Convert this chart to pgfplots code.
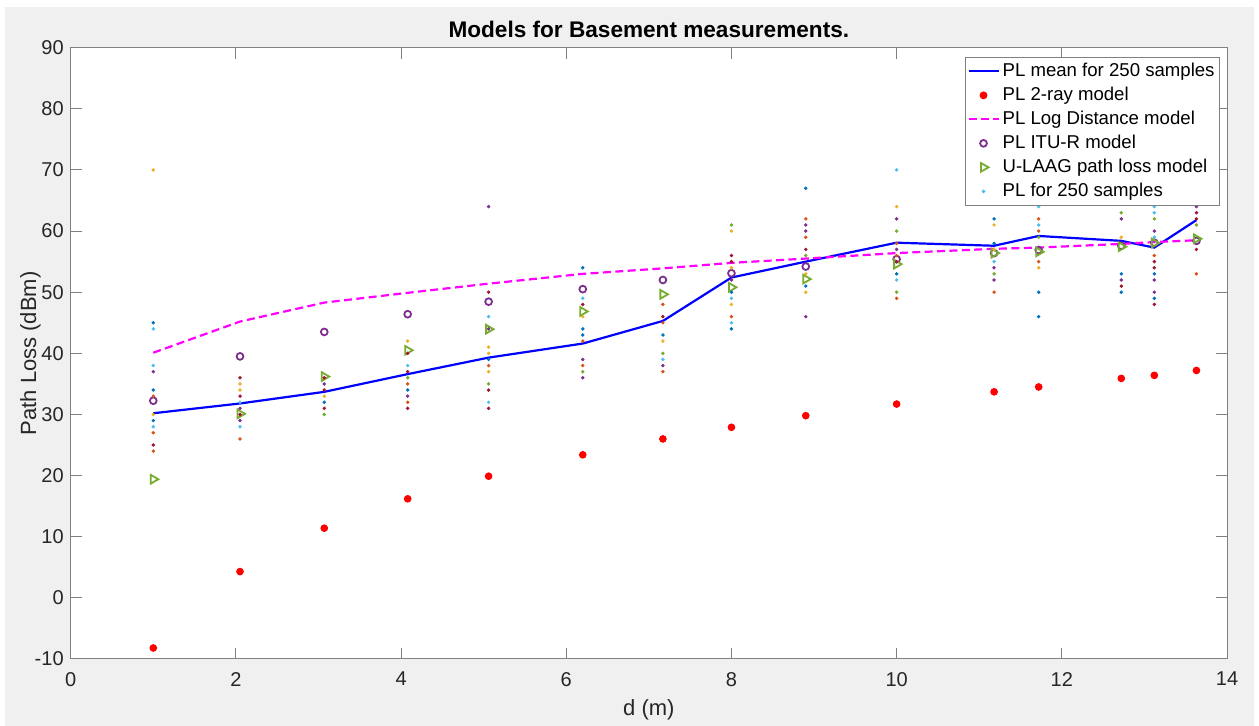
\documentclass[border=0pt]{standalone}
\usepackage{fontspec}
\setmainfont{Liberation Sans}
\usepackage{pgfplots}
\pgfplotsset{compat=1.18}
\definecolor{C1}{rgb}{0,0.447,0.741}
\definecolor{C2}{rgb}{0.85,0.325,0.098}
\definecolor{C3}{rgb}{0.929,0.694,0.125}
\definecolor{C4}{rgb}{0.494,0.184,0.556}
\definecolor{C5}{rgb}{0.466,0.674,0.188}
\definecolor{C6}{rgb}{0.301,0.745,0.933}
\definecolor{C7}{rgb}{0.635,0.078,0.184}
\definecolor{mag}{rgb}{1,0,1}
\definecolor{pureblue}{rgb}{0,0,1}
\definecolor{purered}{rgb}{1,0,0}
\definecolor{bggray}{HTML}{F0F0F0}
\definecolor{axgray}{HTML}{808080}
\definecolor{txtgray}{HTML}{262626}
\begin{document}
\begin{tikzpicture}
\fill[white] (0,0) rectangle (629.5pt,363pt);
\fill[bggray] (2.5pt,0pt) rectangle (627pt,359.5pt);
\begin{axis}[
  at={(35.35pt,33.5pt)}, anchor=south west,
  scale only axis, width=578.15pt, height=305.65pt,
  xmin=0, xmax=14, ymin=-10, ymax=90,
  xtick={0,2,...,14}, ytick={-10,0,...,90},
  tick align=inside, tick pos=both, major tick length=5.6pt,
  axis line style={axgray, line width=0.5pt},
  tick style={axgray, line width=0.5pt},
  axis background/.style={fill=white},
  /pgf/number format/assume math mode=true,
  tick label style={font=\fontsize{10}{12}\selectfont, text=txtgray},
  xticklabel style={yshift=-3pt},
  label style={font=\fontsize{11}{13}\selectfont, text=txtgray},
  xlabel={d (m)}, ylabel={Path Loss (dBm)},
  xlabel style={at={(axis description cs:0.5,-0.0932)}, anchor=base},
  ylabel style={at={(axis description cs:-0.0299,0.5)}, anchor=base},
  title={Models for Basement measurements.},
  title style={font=\bfseries\fontsize{11.3}{13}\selectfont, at={(0.5,1)}, anchor=base, yshift=-1.15pt},
  legend image code/.code={\draw[mark repeat=2,mark phase=2,#1] plot coordinates {(0pt,0pt) (7.5pt,0pt) (15pt,0pt)};},
  legend style={at={(0.994,0.985)}, anchor=north east, draw=axgray, line width=0.5pt, fill=white,
    font=\fontsize{9.3}{11}\selectfont, row sep=0pt, inner sep=1pt,
    nodes={text height=7pt, text depth=2pt, inner sep=1.5pt}},
  legend cell align=left,
]
\addplot[pureblue, line width=1.1pt] coordinates {
(1,30.2) (2.05,31.8) (3.07,33.7) (4.08,36.6) (5.06,39.3) (6.2,41.6) (7.17,45.3) (8.0,52.4)
(8.9,55.0) (10.0,58.1) (11.18,57.6) (11.72,59.2) (12.72,58.4) (13.12,57.3) (13.63,61.8)};
\addlegendentry{PL mean for 250 samples}
\addplot[only marks, mark=*, mark size=1.7pt, purered] coordinates {
(1,-8.2) (2.05,4.3) (3.07,11.4) (4.08,16.2) (5.06,19.9) (6.2,23.4) (7.17,26.0) (8.0,27.9)
(8.9,29.8) (10.0,31.7) (11.18,33.7) (11.72,34.5) (12.72,35.9) (13.12,36.4) (13.63,37.2)};
\addlegendentry{PL 2-ray model}
\addplot[mag, line width=1.1pt, dash pattern=on 4pt off 2.2pt] coordinates {
(1,40.1) (2.05,45.2) (3.07,48.3) (4.08,49.9) (5.06,51.4) (6.2,53.0) (7.17,53.9) (8.0,54.8)
(8.9,55.5) (10.0,56.4) (11.18,57.1) (11.72,57.3) (12.72,57.9) (13.12,58.2) (13.63,58.5)};
\addlegendentry{PL Log Distance model}
\addplot[only marks, mark=o, mark size=1.7pt, C4, line width=0.9pt] coordinates {
(1,32.25) (2.05,39.5) (3.07,43.5) (4.08,46.4) (5.06,48.45) (6.2,50.5) (7.17,52.0) (8.0,53.1)
(8.9,54.2) (10.0,55.4) (11.18,56.4) (11.72,56.9) (12.72,57.6) (13.12,58.1) (13.63,58.4)};
\addlegendentry{PL ITU-R model}
\addplot[only marks, mark=triangle, mark size=2.5pt, C5, line width=0.9pt, mark options={rotate=-90}] coordinates {
(1,19.4) (2.05,30.1) (3.07,36.2) (4.08,40.5) (5.06,43.95) (6.2,46.85) (7.17,49.65) (8.0,50.8)
(8.9,52.15) (10.0,54.6) (11.18,56.4) (11.72,56.6) (12.72,57.45) (13.12,58.05) (13.63,58.75)};
\addlegendentry{U-LAAG path loss model}
\addplot[scatter, only marks, scatter src=explicit symbolic, mark size=0.65pt, forget plot,
  scatter/classes={b={mark=*,C1}, o={mark=*,C2}, y={mark=*,C3}, p={mark=*,C4}, g={mark=*,C5}, l={mark=*,C6}, r={mark=*,C7}}]
table[meta=c] {
x y c
1 70 y
1 45 b
1 44 l
1 38 l
1 37 p
1 34 b
1 33 o
1 30 y
1 29 b
1 28 l
1 27 o
1 25 r
1 24 o
2.05 36 r
2.05 35 y
2.05 34 y
2.05 33 r
2.05 32 l
2.05 31 p
2.05 30 r
2.05 29 p
2.05 28 l
2.05 26 o
3.07 36 r
3.07 35 p
3.07 34 r
3.07 33 y
3.07 32 b
3.07 31 r
3.07 30 g
4.08 42 y
4.08 40 r
4.08 38 l
4.08 37 r
4.08 36 g
4.08 35 o
4.08 34 b
4.08 33 p
4.08 32 o
4.08 31 r
5.06 64 p
5.06 50 r
5.06 46 l
5.06 44 p
5.06 41 y
5.06 40 y
5.06 39 b
5.06 38 o
5.06 37 y
5.06 35 g
5.06 34 r
5.06 32 l
5.06 31 r
6.2 54 b
6.2 49 l
6.2 48 r
6.2 46 y
6.2 44 b
6.2 43 b
6.2 42 o
6.2 39 p
6.2 38 o
6.2 37 g
6.2 36 p
7.17 48 o
7.17 46 r
7.17 45 o
7.17 43 b
7.17 42 y
7.17 40 g
7.17 39 l
7.17 38 p
7.17 37 o
8.0 61 g
8.0 60 y
8.0 56 r
8.0 55 r
8.0 54 y
8.0 52 p
8.0 50 b
8.0 49 l
8.0 48 y
8.0 46 o
8.0 45 l
8.0 44 b
8.9 67 b
8.9 62 o
8.9 61 p
8.9 60 p
8.9 59 o
8.9 57 r
8.9 56 g
8.9 53 y
8.9 51 b
8.9 50 y
8.9 46 p
10.0 70 l
10.0 64 y
10.0 62 p
10.0 60 g
10.0 58 o
10.0 57 p
10.0 56 o
10.0 55 r
10.0 53 b
10.0 52 l
10.0 50 g
10.0 49 o
11.18 62 b
11.18 61 y
11.18 58 b
11.18 57 y
11.18 55 l
11.18 54 p
11.18 53 g
11.18 52 p
11.18 50 o
11.72 64 l
11.72 62 o
11.72 61 l
11.72 60 o
11.72 59 g
11.72 55 o
11.72 54 y
11.72 50 b
11.72 46 b
12.72 63 g
12.72 62 p
12.72 59 y
12.72 53 b
12.72 52 p
12.72 51 r
12.72 50 b
13.12 64 l
13.12 63 l
13.12 62 g
13.12 60 p
13.12 59 l
13.12 56 o
13.12 55 r
13.12 54 r
13.12 53 b
13.12 52 p
13.12 50 p
13.12 49 b
13.12 48 r
13.63 64 p
13.63 63 r
13.63 62 r
13.63 61 g
13.63 57 r
13.63 53 o
};
\addlegendimage{only marks, mark=*, mark size=0.65pt, C6}
\addlegendentry{PL for 250 samples}
\end{axis}
\pgfresetboundingbox
\path[use as bounding box] (0,0) rectangle (629.5pt,363pt);
\end{tikzpicture}
\end{document}
